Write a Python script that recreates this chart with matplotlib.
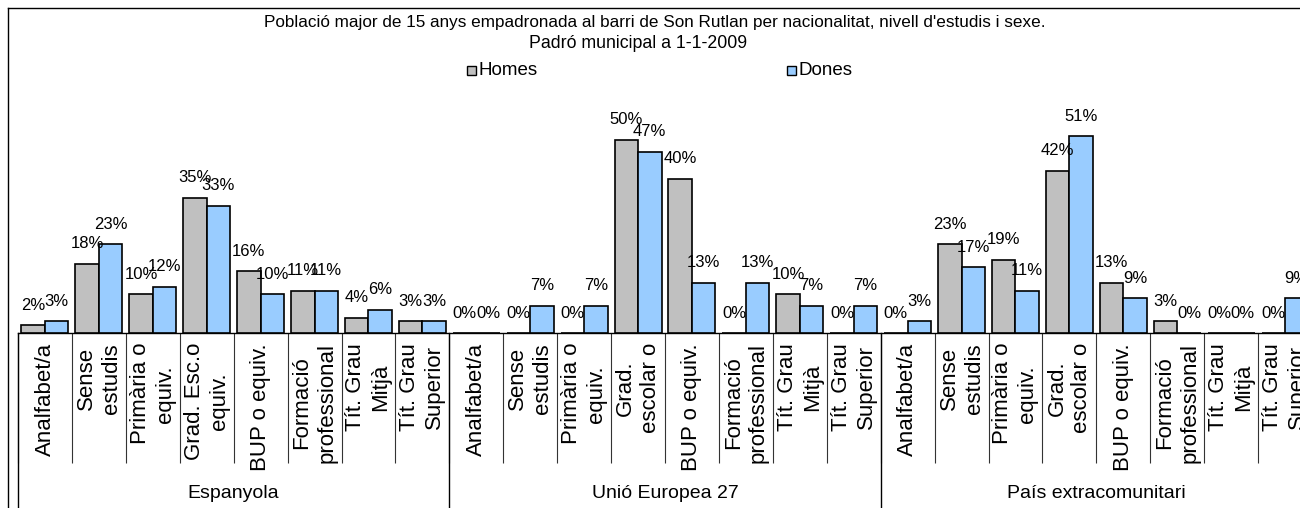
import numpy as np
import matplotlib
matplotlib.use("Agg")
import matplotlib.pyplot as plt
from matplotlib.patches import Rectangle
from matplotlib.lines import Line2D

plt.rcParams['font.family'] = ['Liberation Sans', 'DejaVu Sans']

title_line1 = "Població major de 15 anys empadronada al barri de Son Rutlan per nacionalitat, nivell d'estudis i sexe."
title_line2 = "Padró municipal a 1-1-2009"
series_names = ["Homes", "Dones"]
groups = ["Espanyola", "Unió Europea 27", "País extracomunitari"]
cats_esp = ["Analfabet/a", "Sense\nestudis", "Primària o\nequiv.", "Grad. Esc.o\nequiv.",
            "BUP o equiv.", "Formació\nprofessional", "Tít. Grau\nMitjà", "Tít. Grau\nSuperior"]
cats_ue = ["Analfabet/a", "Sense\nestudis", "Primària o\nequiv.", "Grad.\nescolar o",
           "BUP o equiv.", "Formació\nprofessional", "Tít. Grau\nMitjà", "Tít. Grau\nSuperior"]
cats_ext = ["Analfabet/a", "Sense\nestudis", "Primària o\nequiv.", "Grad.\nescolar o",
            "BUP o equiv.", "Formació\nprofessional", "Tít. Grau\nMitjà", "Tít. Grau\nSuperior"]

homes_esp = [2, 18, 10, 35, 16, 11, 4, 3]
dones_esp = [3, 23, 12, 33, 10, 11, 6, 3]
homes_ue = [0, 0, 0, 50, 40, 0, 10, 0]
dones_ue = [0, 7, 7, 47, 13, 13, 7, 7]
homes_ext = [0, 23, 19, 42, 13, 3, 0, 0]
dones_ext = [3, 17, 11, 51, 9, 0, 0, 9]

homes = homes_esp + homes_ue + homes_ext
dones = dones_esp + dones_ue + dones_ext
cats = cats_esp + cats_ue + cats_ext
group_sizes = [len(cats_esp), len(cats_ue), len(cats_ext)]

W, H = 1300, 508
def fx(px):
    return px / W
def fy(py):
    return 1 - py / H

fig = plt.figure(figsize=(W / 100, H / 100), dpi=100)

base_py = 333
ppu = 3.86
ymax = 60
ax_h = ppu * ymax
ax = fig.add_axes([18 / W, (H - base_py) / H, 1294 / W, ax_h / H])

x = np.arange(len(cats))
off = 0.218
bw = 0.435
c_h = '#C0C0C0'
c_d = '#99CCFF'
ax.bar(x - off, homes, width=bw, color=c_h, edgecolor='black', linewidth=1.2, zorder=3)
ax.bar(x + off, dones, width=bw, color=c_d, edgecolor='black', linewidth=1.2, zorder=3)

for xi, v in zip(x - off, homes):
    ax.annotate(f"{v}%", (xi, v), xytext=(0, 14.4), textcoords='offset points',
                ha='center', va='center', fontsize=12, annotation_clip=False)
for xi, v in zip(x + off, dones):
    ax.annotate(f"{v}%", (xi, v), xytext=(0, 14.4), textcoords='offset points',
                ha='center', va='center', fontsize=12, annotation_clip=False)

ax.set_xlim(-0.5, len(cats) - 0.5)
ax.set_ylim(0, ymax)
for s in ['top', 'right', 'left']:
    ax.spines[s].set_visible(False)
ax.spines['bottom'].set_linewidth(1.0)
ax.set_yticks([])
ax.set_xticks(np.arange(-0.5, len(cats), 1.0))
ax.set_xticklabels([])
ax.tick_params(axis='x', length=130 * 0.72, width=0.8, color='#333333', direction='out')

tr = ax.get_xaxis_transform()
for i, lab in enumerate(cats):
    ax.text(i, -10 / ax_h, lab, transform=tr, rotation=90, ha='center', va='top',
            fontsize=16, linespacing=1.25, multialignment='center')

bounds = np.cumsum([0] + group_sizes) - 0.5
for b in bounds:
    ax.add_line(Line2D([b, b], [0, -(H - base_py) / ax_h], transform=tr,
                       color='black', linewidth=1.0, clip_on=False))
for gi, g in enumerate(groups):
    cx = (bounds[gi] + bounds[gi + 1]) / 2
    ax.text(cx, -(493 - base_py) / ax_h, g, transform=tr, ha='center', va='center', fontsize=14)

fig.text(fx(655), fy(22), title_line1, ha='center', va='center', fontsize=12.3)
fig.text(fx(638), fy(44), title_line2, ha='center', va='center', fontsize=12.8)

for px, name, col in [(467, series_names[0], c_h), (787, series_names[1], c_d)]:
    fig.patches.append(Rectangle((fx(px), fy(75)), 9 / W, 9 / H, transform=fig.transFigure,
                                 facecolor=col, edgecolor='black', linewidth=1.0))
    fig.text(fx(px + 12), fy(70.5), name, ha='left', va='center', fontsize=13.5)

fig.add_artist(Line2D([fx(8), fx(8)], [fy(8), 0], transform=fig.transFigure, color='black', linewidth=1.0))
fig.add_artist(Line2D([fx(8), 1], [fy(8), fy(8)], transform=fig.transFigure, color='black', linewidth=1.0))

fig.savefig("out.png", dpi=100)
